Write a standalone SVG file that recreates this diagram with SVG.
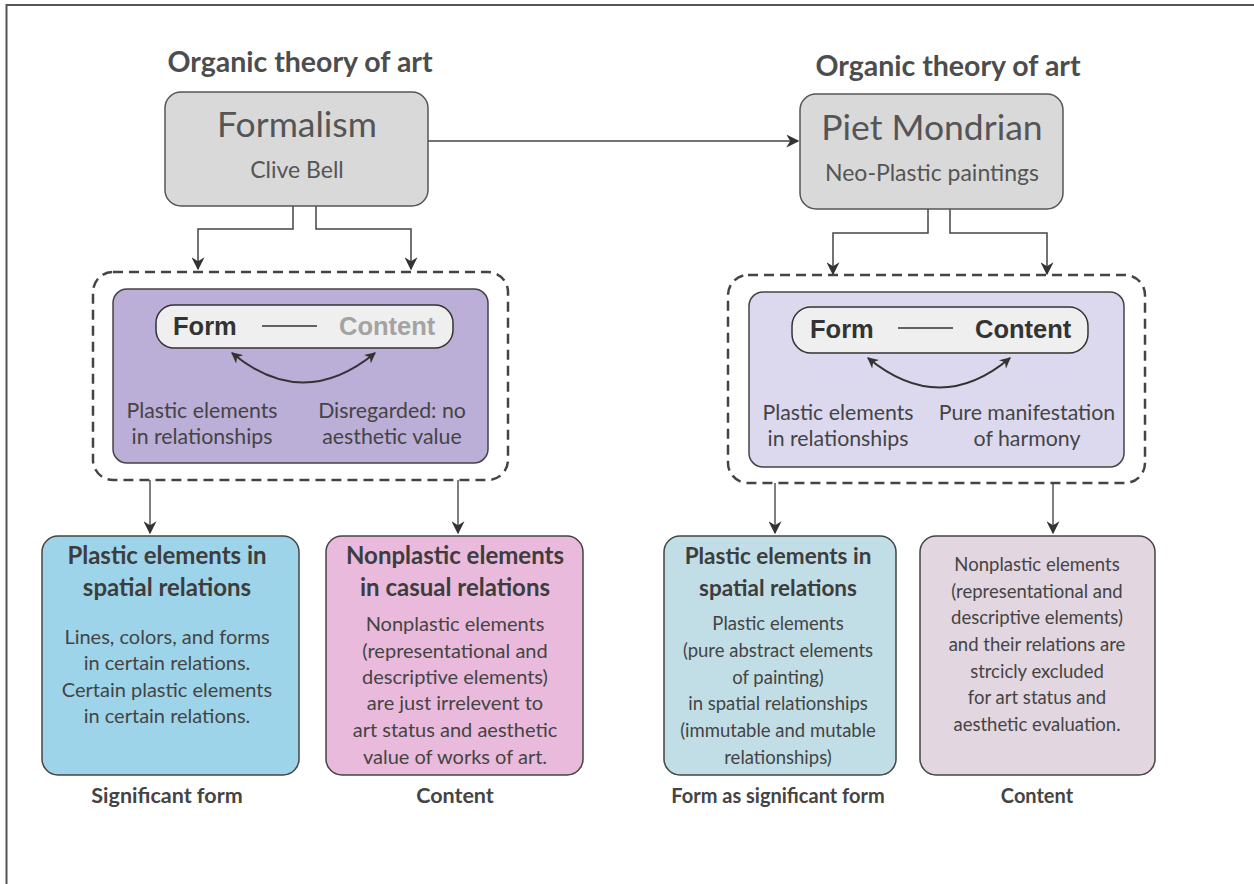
<svg xmlns="http://www.w3.org/2000/svg" width="1254" height="884" viewBox="0 0 1254 884">
<defs>
<style>
.frame{fill:#fff;stroke:#555;stroke-width:2}
.title{font-family:Lato,"Open Sans",sans-serif;font-weight:bold;font-size:28.5px;fill:#4d4d4d;text-anchor:middle}
.gbox{fill:#d9d9d9;stroke:#555;stroke-width:1.5}
.big{font-family:Lato,"Open Sans",sans-serif;font-size:35.5px;fill:#555;text-anchor:middle}
.sub{font-family:Lato,"Open Sans",sans-serif;font-size:23px;fill:#555;text-anchor:middle}
.dash{fill:none;stroke:#444;stroke-width:2.5;stroke-dasharray:10 6}
.pill{fill:#efefef;stroke:#333;stroke-width:1.5}
.fc{font-family:"Liberation Sans",Arial,sans-serif;font-weight:bold;font-size:25.5px}
.m{font-family:Lato,"Open Sans",sans-serif;font-size:21.3px;fill:#444;text-anchor:middle}
.t{font-family:Lato,"Open Sans",sans-serif;font-size:20px;fill:#444;text-anchor:middle}
.tr{font-family:Lato,"Open Sans",sans-serif;font-size:18.5px;fill:#444;text-anchor:middle}
.h{font-family:Lato,"Open Sans",sans-serif;font-weight:bold;font-size:24px;fill:#3d3d3d;text-anchor:middle}
.hr{font-family:Lato,"Open Sans",sans-serif;font-weight:bold;font-size:22.5px;fill:#3d3d3d;text-anchor:middle}
.cap{font-family:Lato,"Open Sans",sans-serif;font-weight:bold;font-size:21.5px;fill:#444;text-anchor:middle}
.capr{font-family:Lato,"Open Sans",sans-serif;font-weight:bold;font-size:20px;fill:#444;text-anchor:middle}
.box{stroke:#444;stroke-width:1.5}
.conn{fill:none;stroke:#444;stroke-width:1.5}
.curve{fill:none;stroke:#333;stroke-width:2}
.conn2{fill:none;stroke:#555;stroke-width:1.5}
</style>
<marker id="ah" viewBox="0 0 10 10" refX="9" refY="5" markerWidth="11" markerHeight="11" markerUnits="userSpaceOnUse" orient="auto-start-reverse">
<path d="M0,0 L10,5 L0,10 L3,5 Z" fill="#333"/>
</marker>
<marker id="ah2" viewBox="0 0 10 10" refX="9" refY="5" markerWidth="13" markerHeight="13" markerUnits="userSpaceOnUse" orient="auto-start-reverse">
<path d="M0,0 L10,5 L0,10 L3,5 Z" fill="#333"/>
</marker>
</defs>
<rect x="0" y="0" width="1254" height="884" fill="#fff"/>
<rect class="frame" x="6.5" y="5" width="1270" height="900"/>

<text class="title" x="300" y="72">Organic theory of art</text>
<text class="title" x="948" y="76">Organic theory of art</text>

<g id="connectors">
<path class="conn" d="M428,141 H798" marker-end="url(#ah2)"/>
<path class="conn" d="M293,206 V229 H198 V269" marker-end="url(#ah2)"/>
<path class="conn" d="M316,206 V229 H411 V269" marker-end="url(#ah2)"/>
<path class="conn" d="M928,209 V233 H833 V274" marker-end="url(#ah2)"/>
<path class="conn" d="M950,209 V233 H1047 V274" marker-end="url(#ah2)"/>
<path class="conn2" d="M150,480 V533" marker-end="url(#ah2)"/>
<path class="conn2" d="M458,480 V533" marker-end="url(#ah2)"/>
<path class="conn2" d="M775,483 V533" marker-end="url(#ah2)"/>
<path class="conn2" d="M1053,483 V533" marker-end="url(#ah2)"/>
</g>

<g id="formalism">
<rect class="gbox" x="165" y="92" width="263" height="114" rx="16"/>
<text class="big" x="297" y="137">Formalism</text>
<text class="sub" x="297" y="178">Clive Bell</text>
</g>

<g id="mondrian">
<rect class="gbox" x="800" y="94" width="263" height="115" rx="16"/>
<text class="big" x="932" y="140">Piet Mondrian</text>
<text class="sub" x="932" y="181">Neo-Plastic paintings</text>
</g>

<g id="left-group">
<rect class="dash" x="93" y="272" width="415" height="208" rx="20"/>
<rect class="box" x="113" y="289" width="375" height="174" rx="14" fill="#bbaed7"/>
<rect class="pill" x="156" y="305" width="297" height="43" rx="18"/>
<text class="fc" x="173" y="335" fill="#333">Form</text>
<line x1="262" y1="326" x2="317" y2="326" stroke="#333" stroke-width="1.5"/>
<text class="fc" x="339" y="335" fill="#a3a3a3">Content</text>
<path class="curve" d="M232,353 Q303,412 375,353" marker-start="url(#ah)" marker-end="url(#ah)"/>
<text class="m" x="202" y="418">Plastic elements</text>
<text class="m" x="202" y="444">in relationships</text>
<text class="m" x="392" y="418">Disregarded: no</text>
<text class="m" x="392" y="444">aesthetic value</text>
</g>

<g id="right-group">
<rect class="dash" x="728" y="275" width="417" height="208" rx="20"/>
<rect class="box" x="749" y="292" width="375" height="175" rx="14" fill="#dcd9ef"/>
<rect class="pill" x="792" y="307" width="296" height="46" rx="19"/>
<text class="fc" x="810" y="338" fill="#333">Form</text>
<line x1="898" y1="328" x2="953" y2="328" stroke="#333" stroke-width="1.5"/>
<text class="fc" x="975" y="338" fill="#333">Content</text>
<path class="curve" d="M868,358 Q940,417 1010,358" marker-start="url(#ah)" marker-end="url(#ah)"/>
<text class="m" x="838" y="420">Plastic elements</text>
<text class="m" x="838" y="446">in relationships</text>
<text class="m" x="1027" y="420">Pure manifestation</text>
<text class="m" x="1027" y="446">of harmony</text>
</g>

<g id="significant-form">
<rect class="box" x="42" y="536" width="257" height="239" rx="16" fill="#9dd4e9"/>
<text class="h" x="167" y="564">Plastic elements in</text>
<text class="h" x="167" y="596">spatial relations</text>
<text class="t" x="167" y="644">Lines, colors, and forms</text>
<text class="t" x="167" y="670">in certain relations.</text>
<text class="t" x="167" y="697">Certain plastic elements</text>
<text class="t" x="167" y="723">in certain relations.</text>
<text class="cap" x="167" y="803">Significant form</text>
</g>

<g id="content-left">
<rect class="box" x="326" y="536" width="257" height="239" rx="16" fill="#e9badb"/>
<text class="h" x="455" y="564">Nonplastic elements</text>
<text class="h" x="455" y="596">in casual relations</text>
<text class="t" x="455" y="631">Nonplastic elements</text>
<text class="t" x="455" y="658">(representational and</text>
<text class="t" x="455" y="684">descriptive elements)</text>
<text class="t" x="455" y="710">are just irrelevent to</text>
<text class="t" x="455" y="737">art status and aesthetic</text>
<text class="t" x="455" y="764">value of works of art.</text>
<text class="cap" x="455" y="803">Content</text>
</g>

<g id="form-as-significant">
<rect class="box" x="664" y="536" width="232" height="239" rx="16" fill="#c1dee6"/>
<text class="hr" x="778" y="564">Plastic elements in</text>
<text class="hr" x="778" y="596">spatial relations</text>
<text class="tr" x="778" y="630">Plastic elements</text>
<text class="tr" x="778" y="657">(pure abstract elements</text>
<text class="tr" x="778" y="684">of painting)</text>
<text class="tr" x="778" y="710">in spatial relationships</text>
<text class="tr" x="778" y="737">(immutable and mutable</text>
<text class="tr" x="778" y="764">relationships)</text>
<text class="capr" x="778" y="803">Form as significant form</text>
</g>

<g id="content-right">
<rect class="box" x="920" y="536" width="235" height="239" rx="16" fill="#e2d6e0"/>
<text class="tr" x="1037" y="571">Nonplastic elements</text>
<text class="tr" x="1037" y="598">(representational and</text>
<text class="tr" x="1037" y="624">descriptive elements)</text>
<text class="tr" x="1037" y="651">and their relations are</text>
<text class="tr" x="1037" y="678">strcicly excluded</text>
<text class="tr" x="1037" y="704">for art status and</text>
<text class="tr" x="1037" y="731">aesthetic evaluation.</text>
<text class="capr" x="1037" y="803">Content</text>
</g>
</svg>
